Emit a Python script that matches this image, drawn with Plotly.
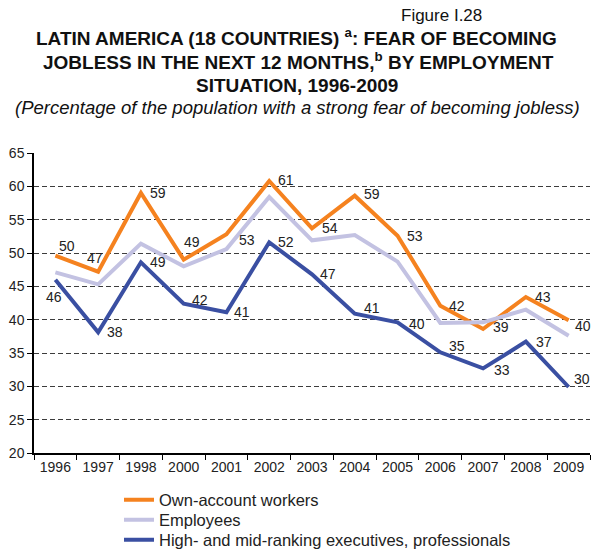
import plotly.graph_objects as go

# Survey years (2002 follows 2001; 1999 not surveyed)
years = ["1996", "1997", "1998", "2000", "2001", "2002", "2003",
         "2004", "2005", "2006", "2007", "2008", "2009"]

# Percentage with a strong fear of becoming jobless
own_account = [49.6, 47.2, 59.0, 49.0, 52.8, 60.8, 53.7, 58.6, 52.6, 42.1, 38.6, 43.4, 39.9]
employees = [47.1, 45.3, 51.4, 48.0, 50.6, 58.4, 51.9, 52.7, 48.7, 39.5, 39.6, 41.5, 37.6]
executives = [46.0, 38.1, 48.6, 42.4, 41.1, 51.6, 46.8, 40.9, 39.6, 35.1, 32.7, 36.7, 29.9]

series_names = ["Own-account workers", "Employees",
                "High- and mid-ranking executives, professionals"]

# Label placement (pixel offsets from each point, right / down)
own_label_offsets = [(12, -10), (-3, -14), (17, 0), (8, -18), (21, 6), (17, -1), (18, 0),
                     (17, -2), (17, 0), (17, 0), (18, -2), (17, 0), (14, 6)]
exec_label_offsets = [(-1, 17), (17, 0), (17, 0), (16, -4), (16, 0), (17, 0), (16, 0),
                      (17, -6), (19, 2), (17, -6), (19, 2), (18, 0), (13, -8)]

FONT = "Liberation Sans, Arial, Helvetica, sans-serif"
colors = ["#F5821F", "#C3C2E2", "#3A4FA2"]
legend_ids = ["legend", "legend2", "legend3"]


def px_x(px):
    return (px - 34) / 556


def px_y(py):
    return (453 - py) / 300


fig = go.Figure()
for name, vals, col, lg in zip(series_names, [own_account, employees, executives], colors, legend_ids):
    fig.add_trace(go.Scatter(
        x=years, y=vals, name=name, mode="lines",
        line=dict(color=col, width=4),
        hoverinfo="x+y", legend=lg,
    ))

annotations = []
for vals, offs in [(own_account, own_label_offsets), (executives, exec_label_offsets)]:
    for i, (v, (dx, dy)) in enumerate(zip(vals, offs)):
        # category position given by index so the year string is not read as a number
        annotations.append(dict(
            x=i, y=v, xref="x", yref="y", text=f"{v:.0f}", showarrow=False,
            xshift=dx, yshift=-dy, xanchor="center", yanchor="middle",
            font=dict(family=FONT, size=14, color="#222"),
        ))

# Heading block
titles = [
    ("Figure I.28", 441, 15, 17, "#111"),
    ("<b>LATIN AMERICA (18 COUNTRIES) <sup>a</sup>: FEAR OF BECOMING</b>", 296, 37, 19, "#111"),
    ("<b>JOBLESS IN THE NEXT 12 MONTHS,<sup>b</sup> BY EMPLOYMENT</b>", 298, 61, 19, "#111"),
    ("<b>SITUATION, 1996-2009</b>", 297, 85, 19, "#111"),
    ("<i>(Percentage of the population with a strong fear of becoming jobless)</i>", 297, 107, 18.5, "#111"),
]
for text, cx, cy, size, col in titles:
    annotations.append(dict(
        x=px_x(cx), y=px_y(cy), xref="paper", yref="paper", text=text,
        showarrow=False, xanchor="center", yanchor="middle",
        font=dict(family=FONT, size=size, color=col),
    ))

# One legend box per series so the rows sit closely stacked
legend_rows = {"legend": 500, "legend2": 520, "legend3": 540}
legend_layout = {}
for lg, row_y in legend_rows.items():
    legend_layout[lg] = dict(
        x=px_x(119), y=px_y(row_y), xanchor="left", yanchor="middle",
        orientation="v", font=dict(family=FONT, size=16.5, color="#222"),
        bgcolor="rgba(0,0,0,0)", itemwidth=30, borderwidth=0,
    )

fig.update_layout(
    width=597, height=550,
    margin=dict(l=34, r=7, t=153, b=97, autoexpand=False),
    paper_bgcolor="white", plot_bgcolor="white",
    font=dict(family=FONT, size=14, color="#222"),
    showlegend=True,
    xaxis=dict(
        type="category", range=[-0.5, 12.5],
        showline=True, linecolor="black", linewidth=1.5,
        ticks="outside", tickson="boundaries", ticklen=5, tickcolor="black",
        showgrid=False, tickfont=dict(size=14), automargin=False,
    ),
    yaxis=dict(
        range=[20, 65], dtick=5, tick0=20,
        showline=True, linecolor="black", linewidth=1.5,
        ticks="outside", ticklen=5, tickcolor="black",
        showgrid=True, gridcolor="#3c3c3c", gridwidth=1, griddash="5px,3px",
        zeroline=False, tickfont=dict(size=14), automargin=False,
    ),
    annotations=annotations,
    **legend_layout,
)

fig.write_html("out.html")
